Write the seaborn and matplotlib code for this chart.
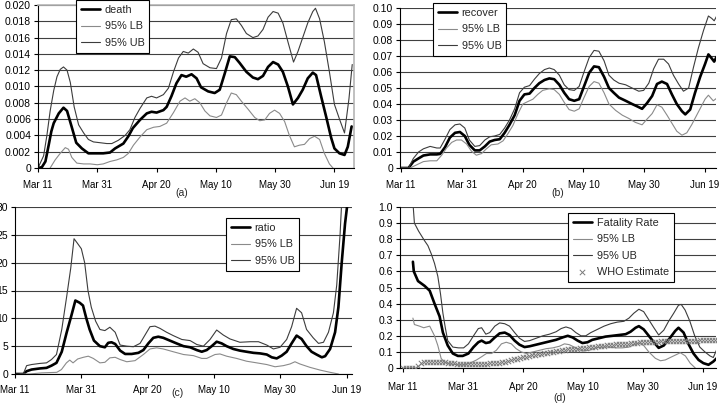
import matplotlib
matplotlib.use("Agg")
import matplotlib.pyplot as plt
import seaborn as sns

# ---------------- data (day index from Mar 11, value) ----------------
tick_days = [0, 20, 40, 60, 80, 100]
tick_labels = ["Mar 11", "Mar 31", "Apr 20", "May 10", "May 30", "Jun 19"]

death = [(0, 0), (1.3, 0.0001), (2.5, 0.0008), (3.6, 0.0028), (4.5, 0.0045), (5.3, 0.0055), (7, 0.0067),
         (8.6, 0.0074), (9.8, 0.0070), (11.4, 0.0050), (12.9, 0.0031), (14.8, 0.0024), (17, 0.0018),
         (20, 0.0018), (22, 0.0018), (24.3, 0.0019), (26, 0.0024), (28.8, 0.0030), (30.5, 0.0039),
         (32, 0.0049), (34.4, 0.0059), (36.7, 0.0067), (38.3, 0.0069), (40, 0.0068), (42.3, 0.0071),
         (43.4, 0.0075), (45, 0.0088), (46.7, 0.0104), (48.4, 0.0114), (50, 0.0112), (51.8, 0.0115),
         (53.5, 0.0110), (55, 0.0099), (57.4, 0.0094), (59.6, 0.0092), (61.3, 0.0096), (63, 0.0116),
         (64.7, 0.0137), (66.4, 0.0136), (68, 0.0129), (70.3, 0.0118), (72.5, 0.0111), (74.2, 0.0109),
         (75.9, 0.0113), (77.6, 0.0124), (79.3, 0.0130), (81, 0.0127), (82.6, 0.0118), (84.3, 0.0100),
         (86, 0.0078), (87.7, 0.0086), (89.3, 0.0096), (91, 0.0110), (92.7, 0.0117), (93.8, 0.0114),
         (95.5, 0.0088), (97.2, 0.0063), (98.9, 0.0037), (100, 0.0024), (101.7, 0.0018), (103.4, 0.0016),
         (104.5, 0.0026), (105.8, 0.0051)]
death_lb = [(4.1, 0), (5.8, 0.001), (7.5, 0.0018), (9.2, 0.0025), (10.3, 0.0023), (11.4, 0.0013), (13.1, 0.0006),
            (15.4, 0.0005), (17.6, 0.0005), (20, 0.0004), (22, 0.0005), (24.3, 0.0008), (26.6, 0.001),
            (28.8, 0.0013), (30.5, 0.0018), (32.2, 0.0028), (34.4, 0.0038), (36.7, 0.0047), (39, 0.005),
            (41.1, 0.0051), (43.4, 0.0055), (45.7, 0.0068), (47.9, 0.0082), (49.6, 0.0086), (51.2, 0.0082),
            (52.9, 0.0085), (54.6, 0.008), (56.3, 0.007), (58, 0.0064), (60.2, 0.0062), (61.9, 0.0065),
            (63.6, 0.008), (65.2, 0.0092), (66.9, 0.009), (68.6, 0.0082), (70.9, 0.0072), (73.1, 0.0062),
            (74.8, 0.0058), (76.5, 0.0059), (78.1, 0.0067), (79.8, 0.0071), (81.5, 0.0067), (83.2, 0.0057),
            (84.8, 0.004), (86.5, 0.0026), (88.2, 0.0028), (89.9, 0.0029), (91.6, 0.0036), (93.3, 0.0039),
            (95, 0.0035), (96.6, 0.0018), (98.3, 0.0005), (99.5, 0)]
death_ub = [(0, 0), (1.9, 0.0015), (3, 0.004), (4.1, 0.007), (5.3, 0.0095), (6.4, 0.0112), (7.5, 0.0121),
            (8.6, 0.0124), (9.8, 0.0120), (10.9, 0.0105), (12.2, 0.0075), (13.7, 0.0053), (15.4, 0.0043),
            (17, 0.0035), (18.7, 0.0032), (21, 0.0031), (23.2, 0.0030), (24.9, 0.0030), (27.1, 0.0034),
            (29.4, 0.0040), (31, 0.0047), (32.7, 0.0062), (34.4, 0.0073), (36.7, 0.0086), (38.3, 0.0088),
            (40, 0.0086), (42.3, 0.0090), (44, 0.0098), (45.7, 0.0118), (47.4, 0.0135), (49, 0.0143),
            (50.7, 0.0141), (52.4, 0.0146), (54, 0.0142), (55.7, 0.0128), (58, 0.0123), (60.2, 0.0122),
            (61.9, 0.0135), (63.6, 0.0165), (65.2, 0.0182), (66.9, 0.0183), (68.6, 0.0175), (70.3, 0.0165),
            (72.5, 0.0160), (74.2, 0.0162), (75.9, 0.0170), (77.6, 0.0185), (79.3, 0.0192), (81, 0.0190),
            (82.6, 0.0178), (84.3, 0.0155), (86.2, 0.0130), (87.7, 0.0143), (89.3, 0.0160), (91, 0.0178),
            (92.7, 0.0192), (93.6, 0.0196), (95, 0.0183), (96.6, 0.0155), (98.3, 0.0118), (100, 0.0078),
            (101.7, 0.0060), (103.4, 0.0043), (104.9, 0.0085), (106, 0.0127)]

recover = [(0, 0), (2.5, 0), (4.1, 0.004), (5.8, 0.006), (7.4, 0.0078), (9.6, 0.0085), (11.8, 0.0085),
           (12.9, 0.0088), (14.5, 0.013), (16.1, 0.019), (17.8, 0.022), (19.4, 0.0225), (21, 0.02),
           (22.5, 0.0145), (24.3, 0.011), (25.9, 0.011), (27.6, 0.0135), (29.2, 0.0165), (30.8, 0.0175),
           (32.5, 0.018), (34.1, 0.022), (35.7, 0.027), (37.4, 0.033), (39, 0.042), (40.6, 0.046),
           (42.3, 0.0465), (43.9, 0.05), (45.5, 0.053), (47.2, 0.055), (48.8, 0.056), (50.4, 0.0555),
           (52.1, 0.052), (53.7, 0.047), (55.3, 0.043), (57, 0.042), (58.6, 0.043), (60.2, 0.051),
           (61.9, 0.0595), (63.5, 0.0635), (65.1, 0.063), (66.8, 0.057), (68.4, 0.05), (70, 0.047),
           (71.7, 0.044), (73.9, 0.042), (76, 0.04), (77.7, 0.0385), (79.3, 0.037), (80.9, 0.0405),
           (82.6, 0.045), (84.2, 0.0525), (85.8, 0.054), (87.5, 0.0525), (89.1, 0.046), (90.7, 0.04),
           (92.4, 0.0355), (93.5, 0.0335), (95.1, 0.0365), (96.7, 0.047), (98.4, 0.057), (100, 0.065),
           (101.1, 0.071), (102.2, 0.0685), (103, 0.0665), (103.8, 0.0695)]
recover_lb = [(0, 0), (3, 0), (5.2, 0.002), (7.4, 0.004), (9.6, 0.0045), (11.8, 0.0045), (13.4, 0.008),
              (15, 0.0125), (16.7, 0.016), (18.3, 0.0175), (19.9, 0.0175), (21.6, 0.015), (23.2, 0.0105),
              (24.8, 0.008), (26.5, 0.009), (28.1, 0.012), (29.7, 0.0145), (31.9, 0.015), (33.6, 0.017),
              (35.2, 0.0215), (36.8, 0.0265), (38.5, 0.034), (40.1, 0.04), (41.7, 0.0415), (43.4, 0.043),
              (45, 0.046), (46.6, 0.0485), (48.8, 0.0495), (50.4, 0.049), (52.1, 0.046), (53.7, 0.041),
              (55.3, 0.0365), (57, 0.0355), (58.6, 0.037), (60.2, 0.044), (61.9, 0.051), (63.5, 0.054),
              (65.1, 0.053), (66.8, 0.047), (68.4, 0.04), (70.6, 0.036), (72.8, 0.033), (74.9, 0.031),
              (77.1, 0.0285), (79.3, 0.027), (80.9, 0.0305), (82.6, 0.034), (84.2, 0.0395), (85.8, 0.038),
              (87.5, 0.033), (89.1, 0.028), (90.7, 0.023), (92.4, 0.0205), (94, 0.022), (95.6, 0.027),
              (97.8, 0.035), (100, 0.043), (101.1, 0.0455), (102.7, 0.042), (104.1, 0.044)]
recover_ub = [(0, 0), (2.5, 0), (4.1, 0.006), (5.8, 0.01), (7.4, 0.012), (9.6, 0.0135), (11.8, 0.0125),
              (12.9, 0.0125), (14.5, 0.018), (16.1, 0.024), (17.8, 0.027), (19.4, 0.0275), (21, 0.025),
              (22.5, 0.0175), (24.3, 0.0135), (25.9, 0.014), (27.6, 0.0175), (29.2, 0.0195), (30.8, 0.02),
              (32.5, 0.021), (34.1, 0.025), (35.7, 0.03), (37.4, 0.037), (39, 0.047), (40.6, 0.0505),
              (42.3, 0.0515), (43.9, 0.0555), (45.5, 0.059), (47.2, 0.0615), (48.8, 0.0625), (50.4, 0.0615),
              (52.1, 0.058), (53.7, 0.052), (55.3, 0.049), (57, 0.0485), (58.6, 0.051), (60.2, 0.06),
              (61.9, 0.069), (63.5, 0.0735), (65.1, 0.073), (66.8, 0.067), (68.4, 0.058), (70, 0.055),
              (71.7, 0.053), (73.9, 0.052), (76, 0.05), (78.2, 0.048), (79.8, 0.0485), (81.5, 0.053),
              (83.1, 0.062), (84.7, 0.068), (86.4, 0.068), (88, 0.065), (89.6, 0.058), (91.3, 0.0525),
              (92.9, 0.048), (94.6, 0.05), (96.2, 0.063), (97.8, 0.075), (99.5, 0.086), (101.1, 0.095),
              (102.2, 0.0935), (103, 0.092), (104.1, 0.096)]

ratio = [(0, 0), (2.5, 0), (3.5, 0.5), (5, 0.8), (7.5, 1.0), (9.5, 1.1), (11, 1.5), (12.5, 2.0), (14.1, 4),
         (15.6, 7.5), (17, 10.5), (18.2, 13.2), (19.5, 12.8), (20.5, 12.3), (21.5, 10), (22.5, 8), (23.8, 6),
         (25.6, 5), (27.1, 4.8), (28.1, 5.6), (29.1, 5.7), (30.2, 5.4), (31.7, 4.2), (33.2, 3.6), (35.2, 3.6),
         (37.2, 3.8), (38.7, 4.3), (40.2, 5.5), (41.7, 6.5), (43.2, 6.7), (44.7, 6.5), (46.7, 6.0), (48.7, 5.5),
         (50.8, 5.0), (52.8, 4.8), (54.8, 4.3), (56.3, 4.0), (57.8, 4.3), (59.3, 5.0), (60.8, 5.8), (62.3, 5.5),
         (63.8, 5.0), (65.8, 4.5), (67.8, 4.2), (69.8, 4.0), (71.9, 3.8), (73.9, 3.7), (75.9, 3.5), (77.4, 3.0),
         (78.9, 2.8), (80.4, 3.3), (81.9, 4.0), (83.4, 5.5), (84.9, 6.9), (86.4, 6.3), (87.9, 5.0), (89.4, 4.0),
         (90.9, 3.5), (92.5, 3.0), (93.5, 3.2), (95, 4.5), (96.5, 7.5), (97.5, 12), (98.5, 20), (99.5, 27),
         (100.5, 32)]
ratio_lb = [(1.5, 0), (4.5, 0), (8, 0.2), (12.6, 0.3), (14, 0.8), (15.5, 2.0), (16.5, 2.5), (17.5, 2.0),
            (18.9, 2.7), (20.6, 3.0), (22.1, 3.2), (23.6, 2.8), (25.6, 2.0), (27.1, 2.1), (28.6, 2.9),
            (30.2, 3.0), (31.7, 2.6), (33.7, 2.2), (36.2, 2.4), (38.7, 3.5), (40.7, 4.5), (42.7, 4.7),
            (44.7, 4.5), (47.7, 4.0), (50.8, 3.5), (53.8, 3.3), (56.3, 2.8), (57.8, 2.8), (60.3, 3.5),
            (61.8, 3.6), (63.8, 3.2), (66.8, 2.8), (69.8, 2.3), (72.9, 2.0), (75.9, 1.7), (78.4, 1.3),
            (80.9, 1.5), (82.9, 1.8), (84.4, 2.2), (85.9, 1.8), (88.9, 1.2), (92, 0.7), (95, 0.3), (97.5, 0)]
ratio_ub = [(0, 0), (2.5, 0), (3.5, 1.5), (5, 1.7), (7.5, 1.9), (9.5, 2.0), (11, 2.6), (12.5, 3.5), (14.1, 8),
            (15.6, 14), (16.8, 19), (17.8, 24.3), (18.8, 23.5), (20, 22.5), (21, 20), (22, 15), (23, 12),
            (24.3, 9.5), (25.6, 8), (27.1, 7.8), (28.6, 8.4), (30.2, 7.5), (31.7, 5.2), (33.7, 5.0),
            (35.7, 4.9), (37.7, 5.5), (39.2, 7), (40.7, 8.5), (42.2, 8.6), (43.7, 8.2), (45.7, 7.5),
            (47.7, 6.9), (50.3, 6.2), (52.8, 6.0), (54.8, 5.3), (56.8, 5.0), (58.8, 6.2), (60.8, 7.9),
            (62.8, 7.0), (64.8, 6.3), (67.8, 5.7), (70.9, 5.8), (73.4, 5.8), (75.9, 5.2), (77.9, 4.5),
            (79.9, 4.8), (81.9, 6.2), (83.4, 8.5), (84.9, 11.8), (86.4, 11), (87.9, 8), (89.9, 6.5),
            (91.5, 5.5), (93, 5.7), (94.5, 7.5), (96, 11), (97, 16), (98, 25), (98.5, 31)]

fatality = [(3.3, 0.66), (3.6, 0.6), (5, 0.54), (7.2, 0.51), (8.9, 0.48), (10.5, 0.4), (12.2, 0.32),
            (13.3, 0.22), (14.9, 0.14), (16.6, 0.09), (18.3, 0.075), (19.9, 0.075), (21.8, 0.09),
            (23.5, 0.13), (25.1, 0.16), (26.2, 0.17), (27.6, 0.155), (28.9, 0.16), (30.6, 0.19),
            (32.2, 0.215), (33.9, 0.22), (35.5, 0.205), (37.2, 0.17), (38.8, 0.145), (40.5, 0.13),
            (42.2, 0.135), (44.4, 0.145), (46.6, 0.155), (48.8, 0.165), (51, 0.175), (53.2, 0.19),
            (54.9, 0.2), (56.5, 0.19), (58.2, 0.17), (59.8, 0.155), (61.5, 0.16), (63.1, 0.175),
            (65.3, 0.185), (67.5, 0.195), (69.8, 0.2), (72, 0.205), (74.2, 0.21), (75.8, 0.225),
            (77.5, 0.25), (78.6, 0.26), (80.2, 0.24), (81.9, 0.2), (83.6, 0.16), (85.2, 0.125),
            (86.9, 0.14), (89.1, 0.19), (90.7, 0.23), (91.8, 0.25), (93.5, 0.22), (95.1, 0.15),
            (96.8, 0.09), (98.5, 0.05), (100.1, 0.03), (101.8, 0.02), (103.4, 0.04), (104.5, 0.06)]
fatality_lb = [(3.3, 0.31), (3.8, 0.27), (5.5, 0.26), (6.9, 0.25), (8.9, 0.26), (10.5, 0.2), (11.6, 0.14),
               (12.7, 0.06), (13.8, 0.035), (16, 0.025), (18, 0.02), (20.2, 0.02), (22.3, 0.03), (24.5, 0.05),
               (26.2, 0.07), (27.8, 0.09), (29.5, 0.09), (31.1, 0.11), (32.8, 0.15), (34.4, 0.16), (36.1, 0.15),
               (37.7, 0.12), (39.4, 0.1), (41.1, 0.09), (43.3, 0.1), (45.5, 0.11), (47.7, 0.12), (49.9, 0.125),
               (52.1, 0.135), (53.8, 0.15), (55.4, 0.145), (57.6, 0.125), (59.8, 0.105), (62, 0.11),
               (64.2, 0.125), (66.4, 0.13), (68.6, 0.13), (70.9, 0.125), (73.1, 0.125), (75.3, 0.13),
               (77.5, 0.15), (78.6, 0.155), (80.2, 0.14), (81.9, 0.1), (84.1, 0.06), (85.8, 0.045),
               (87.4, 0.05), (89.6, 0.07), (91.3, 0.085), (92.4, 0.095), (94.1, 0.075), (95.7, 0.03), (97.4, 0)]
fatality_ub = [(3.3, 1.03), (3.8, 0.9), (5.2, 0.85), (7.2, 0.79), (8.3, 0.76), (9.4, 0.71), (10.5, 0.65),
               (11.6, 0.57), (12.5, 0.46), (13.3, 0.34), (14.1, 0.25), (14.9, 0.17), (16.6, 0.13),
               (18.5, 0.125), (20.2, 0.125), (21.8, 0.15), (23.5, 0.2), (25.1, 0.245), (26.2, 0.25),
               (27.6, 0.21), (28.9, 0.22), (30.6, 0.26), (32.2, 0.28), (33.9, 0.275), (35.5, 0.26),
               (37.2, 0.22), (38.8, 0.185), (40.5, 0.165), (42.2, 0.17), (44.4, 0.185), (46.6, 0.2),
               (48.8, 0.21), (51, 0.225), (52.7, 0.245), (54.3, 0.255), (56, 0.245), (57.6, 0.22),
               (59.3, 0.2), (60.9, 0.2), (62.6, 0.22), (64.8, 0.24), (67, 0.26), (69.2, 0.275),
               (71.4, 0.285), (73.6, 0.29), (75.3, 0.31), (76.9, 0.34), (78.6, 0.365), (80.2, 0.35),
               (81.9, 0.3), (83.6, 0.25), (85.2, 0.205), (86.9, 0.235), (88.5, 0.29), (90.2, 0.34),
               (91.8, 0.39), (92.7, 0.395), (94, 0.36), (95.6, 0.29), (97.2, 0.2), (98.9, 0.13),
               (100.6, 0.1), (102.3, 0.075), (103.4, 0.065), (104.9, 0.13)]

who_estimate = [0.0, 0.0, 0.0, 0.0, 0.0, 0.01, 0.03, 0.037, 0.037, 0.038, 0.038, 0.038, 0.038, 0.037,
                0.035, 0.033, 0.03, 0.028, 0.026, 0.025, 0.024, 0.024, 0.024, 0.024, 0.024, 0.025, 0.025,
                0.026, 0.027, 0.028, 0.029, 0.031, 0.033, 0.036, 0.04, 0.044, 0.049, 0.054, 0.058, 0.062,
                0.066, 0.07, 0.074, 0.078, 0.082, 0.085, 0.088, 0.091, 0.094, 0.097, 0.1, 0.103, 0.106,
                0.109, 0.112, 0.115, 0.117, 0.119, 0.121, 0.123, 0.125, 0.127, 0.129, 0.131, 0.133, 0.135,
                0.137, 0.139, 0.141, 0.143, 0.145, 0.146, 0.148, 0.149, 0.15, 0.152, 0.153, 0.155, 0.157,
                0.159, 0.16, 0.161, 0.162, 0.163, 0.164, 0.164, 0.165, 0.165, 0.166, 0.166, 0.167, 0.167,
                0.168, 0.168, 0.169, 0.169, 0.17, 0.17, 0.17, 0.171, 0.171, 0.171, 0.172, 0.172, 0.172, 0.172]
who_days = list(range(len(who_estimate)))

# ---------------- figure ----------------
sns.set_theme(style="white")
plt.rcParams['font.family'] = ['Liberation Sans', 'DejaVu Sans']

W, H = 720, 403
fig = plt.figure(figsize=(W / 100, H / 100), dpi=100)
fig.patch.set_facecolor("white")


def add_ax(l, t, r, b):
    return fig.add_axes([l / W, 1 - b / H, (r - l) / W, (b - t) / H])


BLACK_LW = 1.9
THIN_LW = 0.8
LB_COL = "#8a8a8a"
UB_COL = "#3c3c3c"


def draw(ax, pairs, color, lw, label):
    xs = [p[0] for p in pairs]
    ys = [p[1] for p in pairs]
    sns.lineplot(x=xs, y=ys, ax=ax, color=color, linewidth=lw, label=label,
                 estimator=None, sort=False)


def style(ax, xlim, yticks, fmt, xpad, frame=False):
    ax.set_xlim(*xlim)
    ax.set_ylim(yticks[0], yticks[-1])
    ax.set_xticks(tick_days)
    ax.set_xticklabels(tick_labels)
    ax.set_yticks(yticks)
    ax.set_yticklabels([fmt(v) for v in yticks])
    ax.set_xlabel("")
    ax.set_ylabel("")
    ax.yaxis.grid(True, color="#404040", linewidth=0.8)
    ax.xaxis.grid(False)
    ax.set_axisbelow(True)
    ax.tick_params(axis="both", which="major", direction="out", length=3, width=0.8,
                   colors="black", bottom=True, left=True)
    ax.tick_params(axis="y", pad=2, labelsize=7.5)
    ax.tick_params(axis="x", pad=xpad, labelsize=7)
    for s in ("left", "bottom"):
        ax.spines[s].set_color("black")
        ax.spines[s].set_linewidth(0.8)
    for s in ("top", "right"):
        if frame:
            ax.spines[s].set_color("#b5b5b5")
            ax.spines[s].set_linewidth(1.2)
        else:
            ax.spines[s].set_visible(False)
    ax.set_facecolor("white")


def legend(ax, x, y):
    leg = ax.legend(loc="upper left", bbox_to_anchor=(x, y), borderaxespad=0, frameon=True,
                    fancybox=False, edgecolor="black", framealpha=1, fontsize=7.8,
                    handlelength=1.8, handletextpad=0.4, labelspacing=0.6, borderpad=0.45)
    leg.get_frame().set_linewidth(0.8)
    return leg


# (a)
ax_a = add_ax(38, 5, 354, 168)
draw(ax_a, death, "black", BLACK_LW, "death")
draw(ax_a, death_lb, LB_COL, THIN_LW, "95% LB")
draw(ax_a, death_ub, UB_COL, THIN_LW, "95% UB")
style(ax_a, (0, 106.6), [0, 0.002, 0.004, 0.006, 0.008, 0.010, 0.012, 0.014, 0.016, 0.018, 0.020],
      lambda v: "0" if v == 0 else f"{v:.3f}", xpad=6, frame=True)
legend(ax_a, 0.12, 1.031)

# (b)
ax_b = add_ax(400, 8, 716, 168)
draw(ax_b, recover, "black", BLACK_LW, "recover")
draw(ax_b, recover_lb, LB_COL, THIN_LW, "95% LB")
draw(ax_b, recover_ub, UB_COL, THIN_LW, "95% UB")
style(ax_b, (-0.3, 103.6), [0, 0.01, 0.02, 0.03, 0.04, 0.05, 0.06, 0.07, 0.08, 0.09, 0.10],
      lambda v: "0" if v == 0 else f"{v:.2f}", xpad=6)
legend(ax_b, 0.104, 1.031)

# (c)
ax_c = add_ax(15, 207, 352, 374)
draw(ax_c, ratio, "black", BLACK_LW, "ratio")
draw(ax_c, ratio_lb, LB_COL, THIN_LW, "95% LB")
draw(ax_c, ratio_ub, UB_COL, THIN_LW, "95% UB")
style(ax_c, (0, 101.6), [0, 5, 10, 15, 20, 25, 30], lambda v: f"{v:d}", xpad=5)
legend(ax_c, 0.626, 0.934)

# (d)
ax_d = add_ax(400, 207, 716, 368)
draw(ax_d, fatality, "black", BLACK_LW, "Fatality Rate")
draw(ax_d, fatality_lb, LB_COL, THIN_LW, "95% LB")
draw(ax_d, fatality_ub, UB_COL, THIN_LW, "95% UB")
sns.scatterplot(x=who_days, y=who_estimate, ax=ax_d, marker="x", color="#7a7a7a", s=15,
                linewidth=0.7, label="WHO Estimate", zorder=3)
style(ax_d, (-1, 104.3), [0, 0.1, 0.2, 0.3, 0.4, 0.5, 0.6, 0.7, 0.8, 0.9, 1.0],
      lambda v: "0" if v == 0 else f"{v:.1f}", xpad=7)
legend(ax_d, 0.531, 0.963)

# panel labels
for lab, x, y in (("(a)", 182, 193), ("(b)", 558, 193), ("(c)", 178, 393), ("(d)", 560, 398)):
    fig.text(x / W, 1 - y / H, lab, ha="center", va="center", fontsize=7.5)

fig.savefig("out.png", dpi=100, facecolor="white")
